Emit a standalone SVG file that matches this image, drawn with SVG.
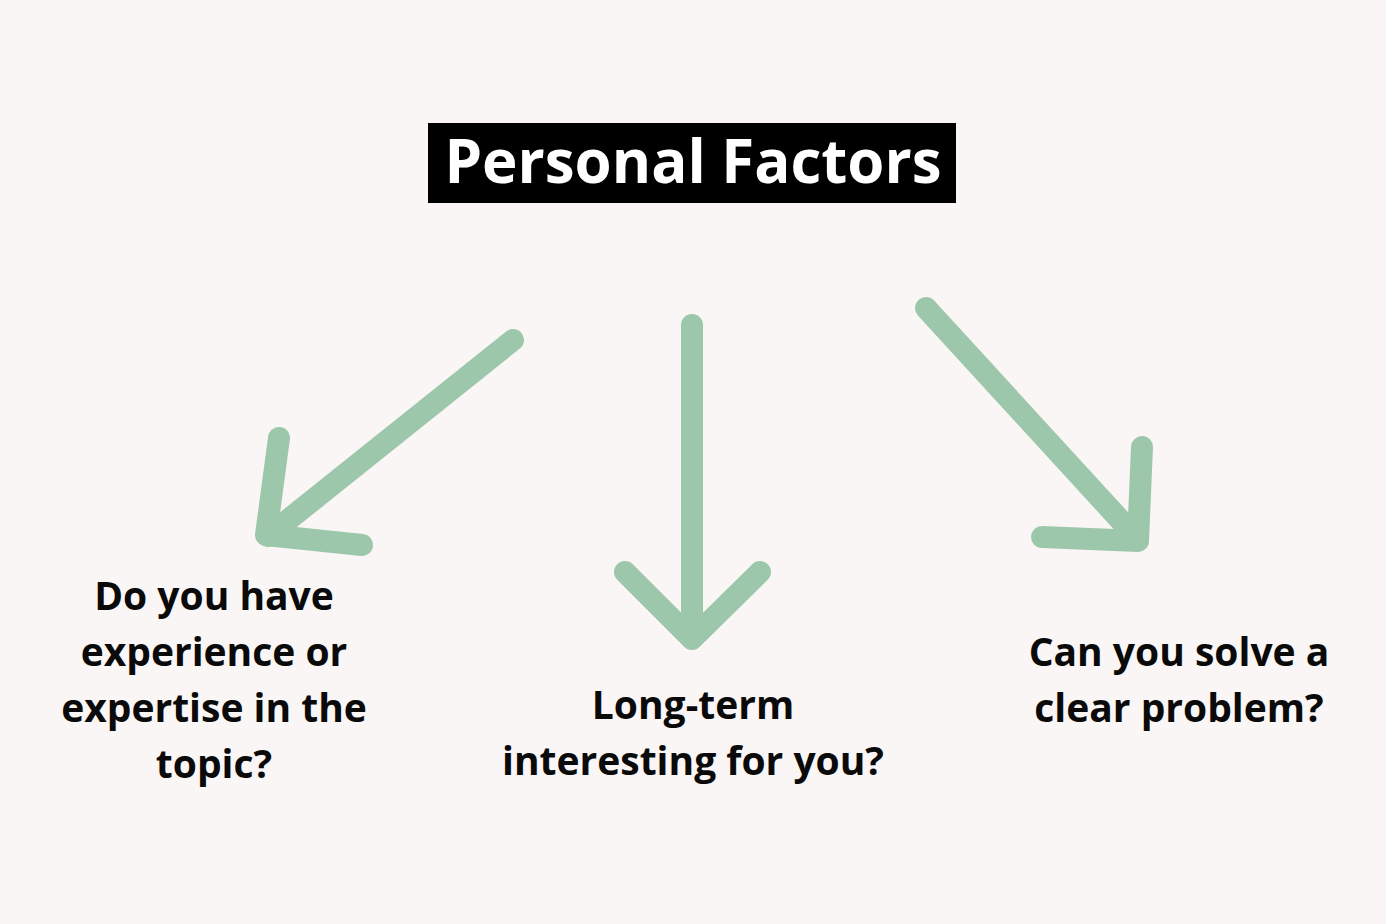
<svg xmlns="http://www.w3.org/2000/svg" width="1386" height="924" viewBox="0 0 1386 924">
<style>
.arrow{fill:none;stroke:#9cc7ab;stroke-width:22;stroke-linecap:round;stroke-linejoin:round}
.lbl{font-family:"Open Sans","Liberation Sans",sans-serif;font-weight:700;font-size:39px;fill:#0a0a0a;text-anchor:middle}
.title{font-family:"Open Sans","Liberation Sans",sans-serif;font-weight:700;font-size:60px;fill:#ffffff;text-anchor:middle}
</style>
<rect width="1386" height="924" fill="#f9f6f5"/>
<g id="title">
<rect x="428" y="123" width="528" height="80" fill="#000000"/>
<text class="title" x="693" y="183">Personal Factors</text>
</g>
<g id="connectors">
<path class="arrow" d="M513,340 L268,536"/>
<path class="arrow" d="M279,438 L266,535 L362,545"/>
<path class="arrow" d="M692,325 L692,638"/>
<path class="arrow" d="M625,572 L692,639 L760,572"/>
<path class="arrow" d="M926,308 L1134,535"/>
<path class="arrow" d="M1142,447 L1138,541 L1042,537"/>
</g>
<g id="node-left">
<text class="lbl" x="214" y="610">Do you have</text>
<text class="lbl" x="214" y="666">experience or</text>
<text class="lbl" x="214" y="722">expertise in the</text>
<text class="lbl" x="214" y="778">topic?</text>
</g>
<g id="node-middle">
<text class="lbl" x="693" y="719">Long-term</text>
<text class="lbl" x="693" y="775">interesting for you?</text>
</g>
<g id="node-right">
<text class="lbl" x="1179" y="666">Can you solve a</text>
<text class="lbl" x="1179" y="722">clear problem?</text>
</g>
</svg>
